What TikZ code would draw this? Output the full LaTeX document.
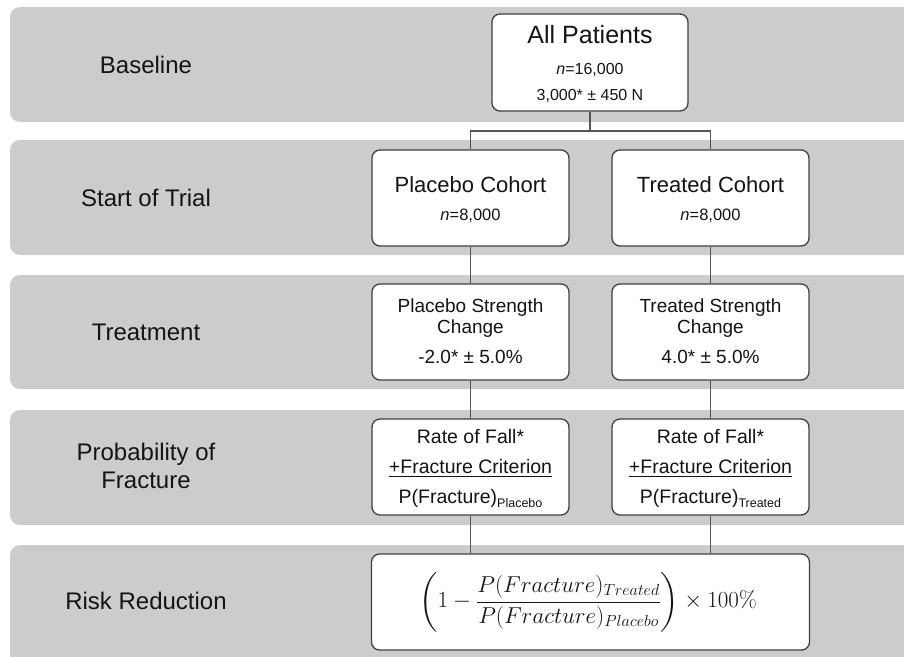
\RequirePackage{fix-cm}
\documentclass[tikz,border=0pt]{standalone}
\usepackage{amsmath}
\usepackage{fontspec}
\setmainfont{Liberation Sans}
\newfontfamily\lmrfont{Latin Modern Roman}
\definecolor{bandgray}{HTML}{CCCCCC}
\definecolor{boxline}{HTML}{404040}
\definecolor{connline}{HTML}{555555}
\definecolor{txt}{HTML}{141414}
\newcommand\fsz[1]{\fontsize{#1}{#1}\selectfont}
\begin{document}
\begin{tikzpicture}[x=1pt,y=-1pt,
  band/.style={fill=bandgray, rounded corners=10pt},
  flowbox/.style={draw=boxline, line width=1.3pt, fill=white, rounded corners=8pt,
    minimum width=197pt, minimum height=96pt, inner sep=0pt},
  rowlabel/.style={font=\fontsize{24}{28}\selectfont, text=txt, align=center, inner sep=0pt},
  conn/.style={draw=connline, line width=1.2pt},
  tline/.style={anchor=base, text=txt, inner sep=0pt}]
\useasboundingbox (0,0) rectangle (904,656);
\clip (0,0) rectangle (904,656);
% bands
\fill[band] (10,7) rectangle (930,122);
\fill[band] (10,140) rectangle (930,255);
\fill[band] (10,275) rectangle (930,389);
\fill[band] (10,410) rectangle (930,525);
\fill[band] (10,545) rectangle (930,680);
% row labels
\node[rowlabel] (l1) at (146,64.5) {Baseline};
\node[rowlabel] (l2) at (146,197.5) {Start of Trial};
\node[rowlabel] (l3) at (146,332) {Treatment};
\node[rowlabel] (l4) at (146,466) {Probability of\\Fracture};
\node[rowlabel] (l5) at (146,601) {Risk Reduction};
% boxes
\node[flowbox, minimum width=196pt, minimum height=97pt] (ap) at (590,62.5) {};
\node[flowbox] (pc) at (470.5,198) {};
\node[flowbox] (tc) at (710.5,198) {};
\node[flowbox] (ps) at (470.5,332) {};
\node[flowbox] (ts) at (710.5,332) {};
\node[flowbox] (pp) at (470.5,467) {};
\node[flowbox] (tp) at (710.5,467) {};
\node[flowbox, minimum width=438pt] (rr) at (590.5,602) {};
% connectors
\coordinate (split) at (590,131);
\draw[conn] (ap.south) -- (split);
\draw[conn] (split) -| (pc.north);
\draw[conn] (split) -| (tc.north);
\draw[conn] (pc.south) -- (ps.north);
\draw[conn] (tc.south) -- (ts.north);
\draw[conn] (ps.south) -- (pp.north);
\draw[conn] (ts.south) -- (tp.north);
\draw[conn] (pp.south) -- (pp.south |- rr.north);
\draw[conn] (tp.south) -- (tp.south |- rr.north);
% texts
\node[tline, font=\fsz{25}] (apt) at (590,43) {All Patients};
\node[tline, font=\fsz{16}] (apn) at (590,74) {\textit{n}=16,000};
\node[tline, font=\fsz{16}] (aps) at (590,100) {3,000* ± 450 N};
\node[tline, font=\fsz{22}] (pct) at (470.5,192) {Placebo Cohort};
\node[tline, font=\fsz{16.5}] (pcn) at (470.5,220) {\textit{n}=8,000};
\node[tline, font=\fsz{22}] (tct) at (710.5,192) {Treated Cohort};
\node[tline, font=\fsz{16.5}] (tcn) at (710.5,220) {\textit{n}=8,000};
\node[tline, font=\fsz{19}] (ps1) at (470.5,312) {Placebo Strength};
\node[tline, font=\fsz{19}] (ps2) at (470.5,333) {Change};
\node[tline, font=\fsz{19}] (ps3) at (470.5,363) {-2.0* ± 5.0\%};
\node[tline, font=\fsz{19}] (ts1) at (710.5,312) {Treated Strength};
\node[tline, font=\fsz{19}] (ts2) at (710.5,333) {Change};
\node[tline, font=\fsz{19}] (ts3) at (710.5,363) {4.0* ± 5.0\%};
\node[tline, font=\fsz{19.5}] (pp1) at (470.5,443) {Rate of Fall*};
\node[tline, font=\fsz{19.5}] (pp2) at (470.5,473) {\underline{+Fracture Criterion}};
\node[tline, font=\fsz{19.5}] (pp3) at (470.5,503) {P(Fracture)\raisebox{-4pt}{\fsz{12.5}Placebo}};
\node[tline, font=\fsz{19.5}] (tp1) at (710.5,443) {Rate of Fall*};
\node[tline, font=\fsz{19.5}] (tp2) at (710.5,473) {\underline{+Fracture Criterion}};
\node[tline, font=\fsz{19.5}] (tp3) at (710.5,503) {P(Fracture)\raisebox{-4pt}{\fsz{12.5}Treated}};
\node[text=txt, inner sep=0pt, font=\fontsize{23}{28}\selectfont] (formula) at (588,602)
  {$\displaystyle\left(1-\frac{P(Fracture)_{Treated}}{P(Fracture)_{Placebo}}\right)\times 100\text{\lmrfont\%}$};
\end{tikzpicture}
\end{document}
